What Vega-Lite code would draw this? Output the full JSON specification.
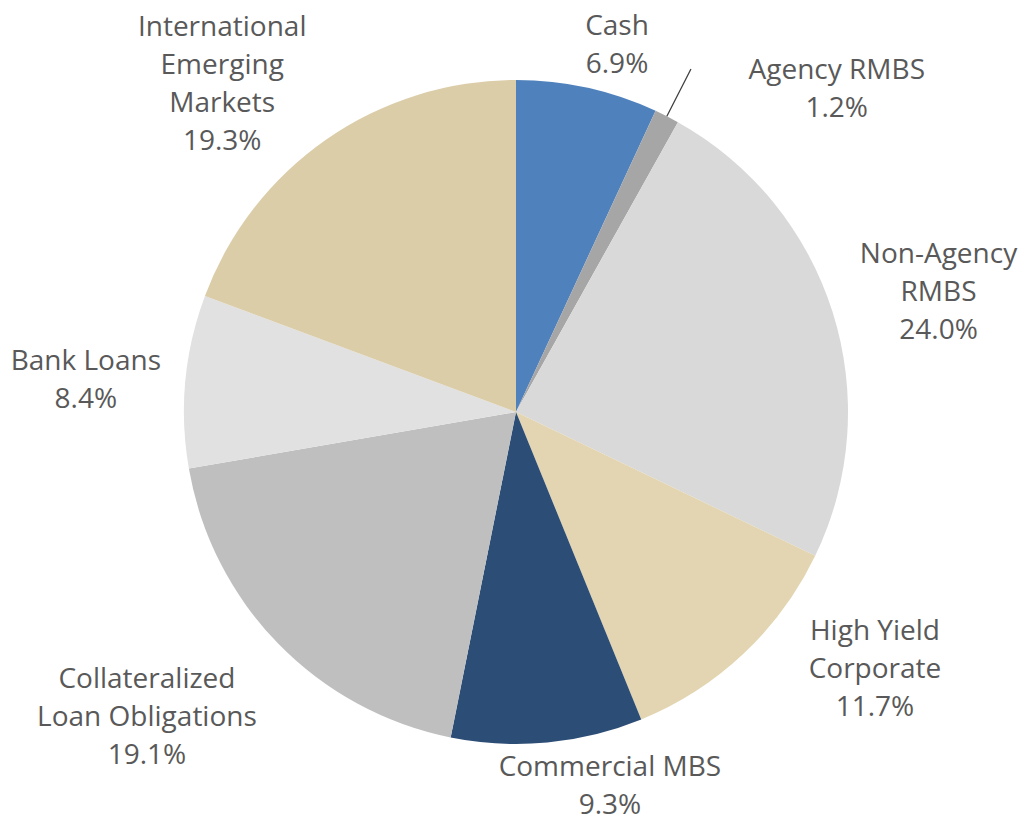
{
  "$schema": "https://vega.github.io/schema/vega-lite/v6.json",
  "width": 1010,
  "height": 808,
  "autosize": {"type": "none"},
  "padding": {"left": 11, "top": 8, "right": 0, "bottom": 0},
  "background": "white",
  "config": {"view": {"stroke": null}, "font": "Open Sans"},
  "data": {
    "values": [
      {"category": "Cash", "label": "Cash\n6.9%", "value": 6.9},
      {"category": "Agency RMBS", "label": "Agency RMBS\n1.2%", "value": 1.2},
      {"category": "Non-Agency RMBS", "label": "Non-Agency\nRMBS\n24.0%", "value": 24.0},
      {"category": "High Yield Corporate", "label": "High Yield\nCorporate\n11.7%", "value": 11.7},
      {"category": "Commercial MBS", "label": "Commercial MBS\n9.3%", "value": 9.3},
      {"category": "Collateralized Loan Obligations", "label": "Collateralized\nLoan Obligations\n19.1%", "value": 19.1},
      {"category": "Bank Loans", "label": "Bank Loans\n8.4%", "value": 8.4},
      {"category": "International Emerging Markets", "label": "International\nEmerging\nMarkets\n19.3%", "value": 19.3}
    ]
  },
  "transform": [{"window": [{"op": "row_number", "as": "idx"}]}],
  "encoding": {
    "theta": {"field": "value", "type": "quantitative", "stack": true},
    "order": {"field": "idx", "type": "quantitative"}
  },
  "layer": [
    {
      "mark": {"type": "arc", "outerRadius": 332, "innerRadius": 0, "strokeWidth": 0},
      "encoding": {
        "color": {
          "field": "category",
          "type": "nominal",
          "scale": {
            "domain": ["Cash", "Agency RMBS", "Non-Agency RMBS", "High Yield Corporate", "Commercial MBS", "Collateralized Loan Obligations", "Bank Loans", "International Emerging Markets"],
            "range": ["#4F81BD", "#A6A6A6", "#D9D9D9", "#E3D5B1", "#2C4D75", "#BFBFBF", "#E1E1E1", "#DCCDA9"]
          },
          "legend": null
        }
      }
    },
    {
      "mark": {"type": "arc", "innerRadius": 332, "outerRadius": 385, "padAngle": 0.8, "fill": "transparent", "fillOpacity": 0, "stroke": "#404040", "strokeWidth": 1.3},
      "encoding": {
        "strokeOpacity": {"condition": {"test": "datum.category === 'Agency RMBS'", "value": 1}, "value": 0}
      }
    },
    {
      "mark": {"type": "text", "radius": 381, "dx": 19, "dy": -13, "align": "center", "baseline": "middle", "lineBreak": "\n", "fontSize": 28, "lineHeight": 38, "fill": "#595959"},
      "encoding": {"text": {"condition": {"test": "datum.category === 'Cash'", "field": "label"}, "value": ""}}
    },
    {
      "mark": {"type": "text", "radius": 433, "dx": 124, "dy": 45, "align": "center", "baseline": "middle", "lineBreak": "\n", "fontSize": 28, "lineHeight": 38, "fill": "#595959"},
      "encoding": {"text": {"condition": {"test": "datum.category === 'Agency RMBS'", "field": "label"}, "value": ""}}
    },
    {
      "mark": {"type": "text", "radius": 439, "dx": 4, "dy": -24, "align": "center", "baseline": "middle", "lineBreak": "\n", "fontSize": 28, "lineHeight": 38, "fill": "#595959"},
      "encoding": {"text": {"condition": {"test": "datum.category === 'Non-Agency RMBS'", "field": "label"}, "value": ""}}
    },
    {
      "mark": {"type": "text", "radius": 432, "dx": 63, "dy": -95, "align": "center", "baseline": "middle", "lineBreak": "\n", "fontSize": 28, "lineHeight": 38, "fill": "#595959"},
      "encoding": {"text": {"condition": {"test": "datum.category === 'High Yield Corporate'", "field": "label"}, "value": ""}}
    },
    {
      "mark": {"type": "text", "radius": 381, "dx": 58, "dy": -23, "align": "center", "baseline": "middle", "lineBreak": "\n", "fontSize": 28, "lineHeight": 38, "fill": "#595959"},
      "encoding": {"text": {"condition": {"test": "datum.category === 'Commercial MBS'", "field": "label"}, "value": ""}}
    },
    {
      "mark": {"type": "text", "radius": 476, "dx": -28, "dy": -64, "align": "center", "baseline": "middle", "lineBreak": "\n", "fontSize": 28, "lineHeight": 38, "fill": "#595959"},
      "encoding": {"text": {"condition": {"test": "datum.category === 'Collateralized Loan Obligations'", "field": "label"}, "value": ""}}
    },
    {
      "mark": {"type": "text", "radius": 431, "dx": -1, "dy": -10, "align": "center", "baseline": "middle", "lineBreak": "\n", "fontSize": 28, "lineHeight": 38, "fill": "#595959"},
      "encoding": {"text": {"condition": {"test": "datum.category === 'Bank Loans'", "field": "label"}, "value": ""}}
    },
    {
      "mark": {"type": "text", "radius": 438, "dx": -44, "dy": -24, "align": "center", "baseline": "middle", "lineBreak": "\n", "fontSize": 28, "lineHeight": 38, "fill": "#595959"},
      "encoding": {"text": {"condition": {"test": "datum.category === 'International Emerging Markets'", "field": "label"}, "value": ""}}
    }
  ]
}
